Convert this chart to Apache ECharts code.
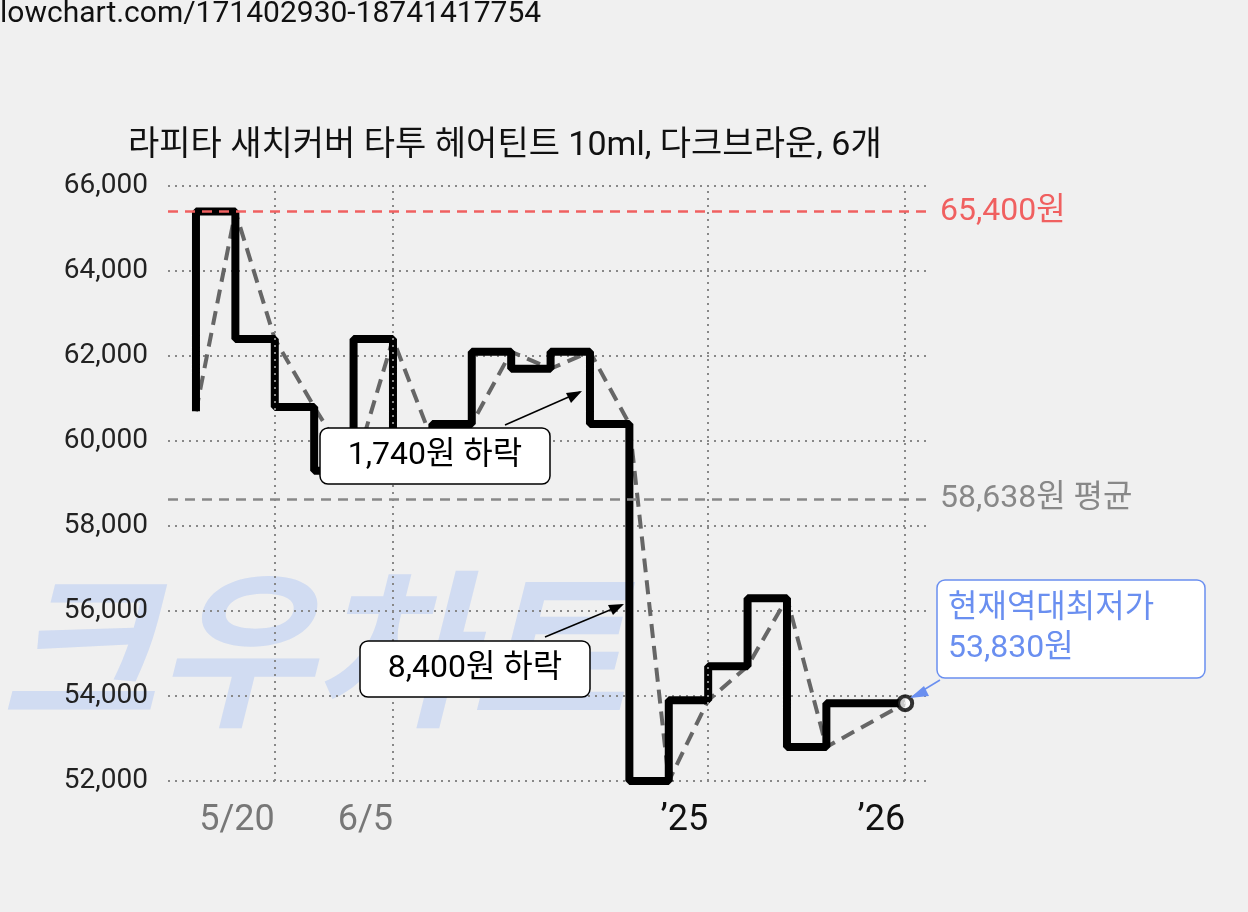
<!DOCTYPE html>
<html><head><meta charset="utf-8">
<script src="https://cdn.jsdelivr.net/npm/echarts@6/dist/echarts.min.js"></script>
<style>html,body{margin:0;background:#f0f0f0}#c{width:1248px;height:912px}</style>
</head><body><div id="c"></div>
<script>
const xs = [0,1,2,3,4,5,6,7,8,9,10,11,12,13,14,15,16,18];
const prices = [60700,65400,62400,60800,59300,62400,60000,60400,62100,61700,62100,60400,52000,53900,54700,56300,52800,53830];
const tickPos = [2,5,13,18];
const tickLabels = ['5/20','6/5','’25','’26'];
const maxPrice = 65400, avgPrice = 58638, minPrice = 51960;
const F = 'Roboto,"Noto Sans CJK KR",sans-serif';
const pts = xs.map((x,i)=>[x,prices[i]]);
const chart = echarts.init(document.getElementById('c'));
function hline(v,color,label,lc){return {type:'line',data:[],silent:true,markLine:{symbol:'none',silent:true,
  lineStyle:{color:color,type:[10,7],width:2.5},label:{show:true,position:'end',formatter:label,color:lc,fontSize:32,fontFamily:F,distance:10},
  data:[{yAxis:v}]}};}
chart.setOption({
  backgroundColor:'#f0f0f0',animation:false,
  grid:{left:168,right:318,top:186,bottom:131},
  xAxis:{type:'value',min:-0.71,max:18.63,axisLine:{show:false},
    axisTick:{show:false},splitLine:{show:false},
    axisLabel:{customValues:tickPos,margin:22,fontFamily:F,fontSize:36,align:'right',
      formatter:v=>{const i=tickPos.indexOf(v);return i>=2?'{b|'+tickLabels[i]+'}':'{g|'+tickLabels[i]+'}';},
      rich:{b:{color:'#111',fontSize:36,fontFamily:F},g:{color:'#777',fontSize:36,fontFamily:F}}}},
  yAxis:{type:'value',min:52000,max:66000,interval:2000,axisLine:{show:false},axisTick:{show:false},
    splitLine:{lineStyle:{color:'#888',type:[2,5],width:2}},
    axisLabel:{color:'#222',fontSize:28,fontFamily:F,margin:20,formatter:v=>v.toLocaleString('en-US')}},
  series:[
    {type:'line',data:[],silent:true,markLine:{symbol:'none',silent:true,label:{show:false},
      lineStyle:{color:'#888',type:[2,5],width:2},data:tickPos.map(x=>({xAxis:x}))}},
    hline(maxPrice,'#f06060','65,400원','#f06060'),
    hline(avgPrice,'#888','58,638원 평균','#888'),
    hline(minPrice,'#6a8ff0','51,960원','#6a8ff0'),
    {type:'line',data:pts,symbol:'none',lineStyle:{color:'#666',width:4,type:[14,8]},z:3},
    {type:'line',data:pts,step:'start',symbol:'none',lineStyle:{color:'#000',width:8},z:4},
    {type:'scatter',data:[pts[pts.length-1]],symbol:'circle',symbolSize:14,itemStyle:{color:'#fff',borderColor:'#000',borderWidth:4},z:6}
  ],
  graphic:[
    {type:'text',left:0,top:0,style:{text:'lowchart.com/171402930-18741417754',fontSize:30,fontFamily:F,fill:'#111'}},
    {type:'text',left:128,top:130,style:{text:'라피타 새치커버 타투 헤어틴트 10ml, 다크브라운, 6개',fontSize:34,fontFamily:F,fill:'#111'}},
    {type:'text',left:0,top:585,z:0,style:{text:'크우차트',fontSize:170,fontWeight:'bold',fontStyle:'italic',fontFamily:F,fill:'rgba(170,195,245,0.45)'}},
    {type:'line',shape:{x1:505,y1:425,x2:580,y2:392},style:{stroke:'#000',lineWidth:1.5},z:10},
    {type:'polygon',shape:{points:[[582,391],[566,393],[571,403]]},style:{fill:'#000'},z:10},
    {type:'line',shape:{x1:545,y1:637,x2:622,y2:605},style:{stroke:'#000',lineWidth:1.5},z:10},
    {type:'polygon',shape:{points:[[624,604],[608,605],[613,615]]},style:{fill:'#000'},z:10},
    {type:'line',shape:{x1:940,y1:680,x2:912,y2:697},style:{stroke:'#6a8ff0',lineWidth:1.5},z:10},
    {type:'polygon',shape:{points:[[910,698],[924,686],[929,696]]},style:{fill:'#6a8ff0'},z:10},
    {type:'rect',shape:{x:320,y:428,width:230,height:56,r:8},style:{fill:'#fff',stroke:'#000',lineWidth:1.5},z:10},
    {type:'text',x:435,y:456,style:{text:'1,740원 하락',fontSize:32,fontFamily:F,fill:'#000',align:'center',verticalAlign:'middle'},z:11},
    {type:'rect',shape:{x:360,y:641,width:230,height:56,r:8},style:{fill:'#fff',stroke:'#000',lineWidth:1.5},z:10},
    {type:'text',x:475,y:669,style:{text:'8,400원 하락',fontSize:32,fontFamily:F,fill:'#000',align:'center',verticalAlign:'middle'},z:11},
    {type:'rect',shape:{x:937,y:580,width:268,height:98,r:8},style:{fill:'#fff',stroke:'#6a8ff0',lineWidth:1.5},z:10},
    {type:'text',x:948,y:629,style:{text:'현재역대최저가\n53,830원',fontSize:32,lineHeight:40,fontFamily:F,fill:'#6a8ff0',verticalAlign:'middle'},z:11}
  ]
});
</script></body></html>
